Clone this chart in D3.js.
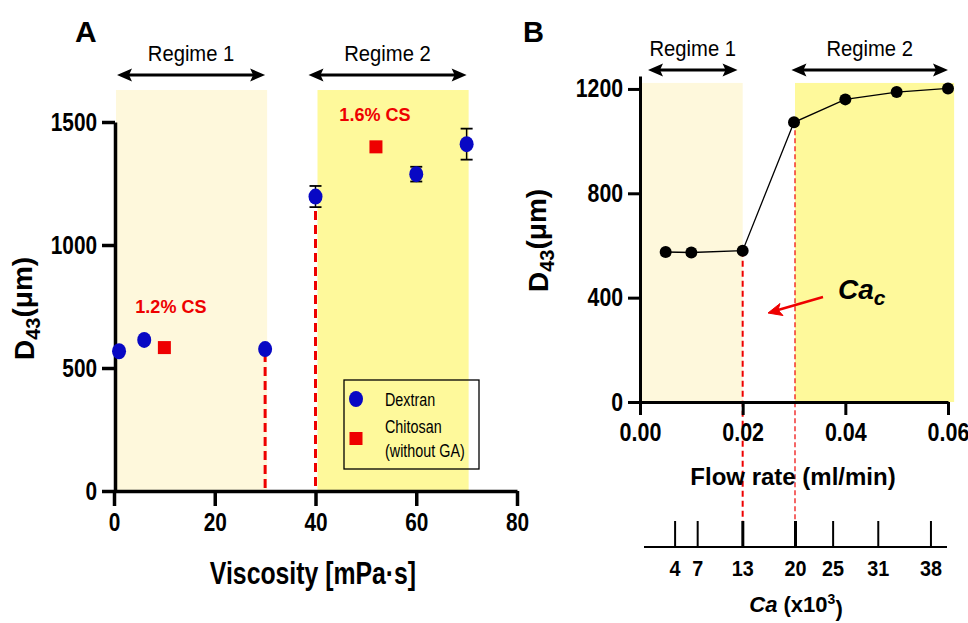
<!DOCTYPE html>
<html>
<head>
<meta charset="utf-8">
<script src="https://cdn.jsdelivr.net/npm/d3@7"></script>
<style>
  body { margin: 0; background: #fff; }
</style>
</head>
<body>
<div id='chart'></div>
<script>

// Data, panel A
const dexVisc = [1, 6, 30, 40, 60, 70];
const dexD43 = [568, 614, 577, 1197, 1288, 1410];
const dexErr = [0, 0, 0, 43, 30, 63];
const chiVisc = [10, 52];
const chiD43 = [583, 1399];
const chiLabels = ['1.2% CS', '1.6% CS'];
const chiLabelAt = [[11.3, 725], [51.8, 1505]];
const viscTicks = [0, 20, 40, 60, 80];
const d43TicksA = [0, 500, 1000, 1500];
const regimesA = [[0, 30], [40, 70]];
const dashedA = [30, 40];

// Data, panel B
const flowRate = [0.005, 0.01, 0.02, 0.03, 0.04, 0.05, 0.06];
const d43B = [575, 573, 580, 1072, 1160, 1188, 1202];
const flowTicks = [0, 0.02, 0.04, 0.06];
const d43TicksB = [0, 400, 800, 1200];
const regimesB = [[0, 0.02], [0.03, 0.061]];
const caTicks = [4, 7, 13, 20, 25, 31, 38];

// Styles
const ARIAL = '"Liberation Sans", Arial, sans-serif';
const lightYellow = '#fef8dc';
const strongYellow = '#fef99b';
const dexColor = '#0808c4';
const chiColor = '#ee0000';

const svg = d3.select('#chart').append('svg')
  .attr('width', 968)
  .attr('height', 623);

// squeeze text horizontally (no narrow font installed)
function narrow(sel, k) {
  sel.each(function() {
    const t = d3.select(this);
    const x = +t.attr('x') || 0;
    const y = +t.attr('y') || 0;
    t.attr('x', x / k).attr('y', y).attr('transform', `scale(${k},1)`);
  });
}

// double headed arrow for regime labels
function regimeArrow(g, x1, x2, y, label) {
  g.append('line')
    .attr('x1', x1 + 8).attr('x2', x2 - 8)
    .attr('y1', y).attr('y2', y)
    .style('stroke', '#000').style('stroke-width', 3);
  g.append('path')
    .attr('d', `M${x1},${y} L${x1 + 15},${y - 6.5} L${x1 + 12},${y} L${x1 + 15},${y + 6.5} Z`)
    .style('fill', '#000');
  g.append('path')
    .attr('d', `M${x2},${y} L${x2 - 15},${y - 6.5} L${x2 - 12},${y} L${x2 - 15},${y + 6.5} Z`)
    .style('fill', '#000');
  g.append('text')
    .attr('x', (x1 + x2) / 2)
    .attr('y', y - 14)
    .attr('text-anchor', 'middle')
    .style('font-family', ARIAL)
    .style('font-size', '22px')
    .call(narrow, 0.92)
    .text(label);
}

function styleAxis(ax, size, k, sw) {
  ax.select('.domain').style('stroke-width', sw);
  ax.selectAll('.tick line').style('stroke-width', sw);
  ax.selectAll('.tick text')
    .style('font-family', ARIAL)
    .style('font-weight', 'bold')
    .style('font-size', size + 'px')
    .attr('fill', '#000')
    .call(narrow, k);
}

// ---------------- Panel A ----------------
const xA = d3.scaleLinear().domain([0, 80]).range([114, 517]);
const yA = d3.scaleLinear().domain([0, 1500]).range([491, 122]);
const gA = svg.append('g');

gA.selectAll('rect.regime')
  .data(regimesA)
  .enter()
  .append('rect')
  .attr('class', 'regime')
  .attr('x', d => xA(d[0]) + 2)
  .attr('width', d => xA(d[1]) - xA(d[0]))
  .attr('y', yA(1630))
  .attr('height', yA(0) - yA(1630))
  .style('fill', (d, i) => i === 0 ? lightYellow : strongYellow);

regimeArrow(gA, xA(regimesA[0][0]) + 3, xA(regimesA[0][1]), 75, 'Regime 1');
regimeArrow(gA, xA(regimesA[1][0]) - 7, xA(regimesA[1][1]), 75, 'Regime 2');

// red dashed lines down from the transition points
gA.selectAll('line.crit')
  .data(dashedA)
  .enter()
  .append('line')
  .attr('class', 'crit')
  .attr('x1', d => xA(d)).attr('x2', d => xA(d))
  .attr('y1', d => {
    const i = dexVisc.indexOf(d);
    return yA(dexD43[i] - dexErr[i]) + 4;
  })
  .attr('y2', yA(0))
  .style('stroke', chiColor)
  .style('stroke-width', 3)
  .style('stroke-dasharray', '9,5');

// axes
const axA_y = gA.append('g')
  .attr('transform', `translate(${xA(0) + 1},0)`)
  .call(d3.axisLeft(yA).tickValues(d43TicksA).tickFormat(d3.format('d'))
    .tickSize(13).tickSizeOuter(0).tickPadding(5));
styleAxis(axA_y, 26, 0.8, 3.5);

const axA_x = gA.append('g')
  .attr('transform', `translate(0,${yA(0)})`)
  .call(d3.axisBottom(xA).tickValues(viscTicks).tickSize(15).tickSizeOuter(0).tickPadding(7));
styleAxis(axA_x, 26, 0.8, 3.5);

// error bars
const errIdx = dexErr.map((e, i) => i).filter(i => dexErr[i] > 0);
const eb = gA.selectAll('g.err').data(errIdx).enter().append('g');
eb.append('line')
  .attr('x1', i => xA(dexVisc[i])).attr('x2', i => xA(dexVisc[i]))
  .attr('y1', i => yA(dexD43[i] - dexErr[i]))
  .attr('y2', i => yA(dexD43[i] + dexErr[i]))
  .style('stroke', '#000').style('stroke-width', 1.5);
[-1, 1].forEach(s => {
  eb.append('line')
    .attr('x1', i => xA(dexVisc[i]) - 6).attr('x2', i => xA(dexVisc[i]) + 6)
    .attr('y1', i => yA(dexD43[i] + s * dexErr[i]))
    .attr('y2', i => yA(dexD43[i] + s * dexErr[i]))
    .style('stroke', '#000').style('stroke-width', 1.8);
});

// Dextran points
gA.selectAll('ellipse.dex')
  .data(dexVisc)
  .enter()
  .append('ellipse')
  .attr('cx', d => xA(d))
  .attr('cy', (d, i) => yA(dexD43[i]))
  .attr('rx', 7).attr('ry', 8)
  .style('fill', dexColor);

// Chitosan points
gA.selectAll('rect.chi')
  .data(chiVisc)
  .enter()
  .append('rect')
  .attr('x', d => xA(d) - 6.5)
  .attr('y', (d, i) => yA(chiD43[i]) - 6.5)
  .attr('width', 13).attr('height', 13)
  .style('fill', chiColor);

gA.selectAll('text.cs')
  .data(chiLabels)
  .enter()
  .append('text')
  .attr('x', (d, i) => xA(chiLabelAt[i][0]))
  .attr('y', (d, i) => yA(chiLabelAt[i][1]))
  .attr('text-anchor', 'middle')
  .style('font-family', ARIAL)
  .style('font-weight', 'bold')
  .style('font-size', '19px')
  .style('fill', chiColor)
  .text(d => d)
  .call(narrow, 0.95);

// legend
const leg = gA.append('g').attr('transform', 'translate(344,380)');
leg.append('rect')
  .attr('width', 135).attr('height', 89)
  .style('fill', 'none').style('stroke', '#000').style('stroke-width', 1.3);
leg.append('ellipse').attr('cx', 12).attr('cy', 19).attr('rx', 7).attr('ry', 8).style('fill', dexColor);
leg.append('rect').attr('x', 5.5).attr('y', 52).attr('width', 13).attr('height', 13).style('fill', chiColor);
[['Dextran', 26], ['Chitosan', 53], ['(without GA)', 77]].forEach(t => {
  leg.append('text')
    .attr('x', 41).attr('y', t[1])
    .style('font-family', ARIAL)
    .style('font-size', '17.5px')
    .text(t[0])
    .call(narrow, 0.82);
});

// titles
gA.append('text')
  .attr('x', 75).attr('y', 42)
  .style('font-family', ARIAL).style('font-weight', 'bold').style('font-size', '30px')
  .text('A');

gA.append('text')
  .attr('x', xA(39.5)).attr('y', 584)
  .attr('text-anchor', 'middle')
  .style('font-family', ARIAL).style('font-weight', 'bold').style('font-size', '31px')
  .text('Viscosity [mPa·s]')
  .call(narrow, 0.8);

function d43Label(g, x, y) {
  const t = g.append('text')
    .attr('transform', `translate(${x},${y}) rotate(-90)`)
    .style('font-family', ARIAL).style('font-weight', 'bold').style('font-size', '28px');
  t.append('tspan').text('D');
  t.append('tspan').attr('dy', '0.28em').style('font-size', '20px').text('43');
  t.append('tspan').attr('dy', '-0.28em').text('(μm)');
}
d43Label(gA, 34, 360);

// ---------------- Panel B ----------------
const xB = d3.scaleLinear().domain([0, 0.06]).range([640, 948]);
const yB = d3.scaleLinear().domain([0, 1250]).range([402, 75.9]);
const gB = svg.append('g');

gB.selectAll('rect.regime')
  .data(regimesB)
  .enter()
  .append('rect')
  .attr('x', d => xB(d[0]) + (d[0] === 0 ? 2 : 1))
  .attr('width', d => xB(d[1]) - xB(d[0]) - (d[0] === 0 ? 2 : 0))
  .attr('y', yB(1223))
  .attr('height', yB(0) - yB(1223))
  .style('fill', (d, i) => i === 0 ? lightYellow : strongYellow);

regimeArrow(gB, xB(0) + 8, xB(0.019), 70, 'Regime 1');
regimeArrow(gB, xB(0.0295), xB(0.06), 70, 'Regime 2');

// Ca secondary axis
const caScale = d3.scaleLinear().domain([0, 40]).range([645, 946]);
const caY = 547;

// red dashed lines at the critical points
gB.append('line')
  .attr('x1', xB(0.02)).attr('x2', xB(0.02))
  .attr('y1', yB(d43B[2])).attr('y2', caY - 26)
  .style('stroke', chiColor).style('stroke-width', 2).style('stroke-dasharray', '6,4');
gB.append('line')
  .attr('x1', xB(0.03) + 1).attr('x2', xB(0.03) + 1)
  .attr('y1', yB(d43B[3])).attr('y2', caY - 26)
  .style('stroke', chiColor).style('stroke-width', 1.2).style('stroke-dasharray', '5,3');

const axB_y = gB.append('g')
  .attr('transform', `translate(${xB(0)},0)`)
  .call(d3.axisLeft(yB).tickValues(d43TicksB).tickFormat(d3.format('d'))
    .tickSize(12).tickSizeOuter(0).tickPadding(5));
styleAxis(axB_y, 25, 0.85, 3);

const axB_x = gB.append('g')
  .attr('transform', `translate(0,${yB(0)})`)
  .call(d3.axisBottom(xB).tickValues(flowTicks).tickFormat(d3.format('.2f'))
    .tickSize(13).tickSizeOuter(0).tickPadding(8));
styleAxis(axB_x, 25, 0.86, 3);

// data line + points
gB.append('path')
  .datum(flowRate)
  .attr('d', d3.line().x(d => xB(d)).y((d, i) => yB(d43B[i])))
  .style('fill', 'none').style('stroke', '#000').style('stroke-width', 1.3);

gB.selectAll('circle.pt')
  .data(flowRate)
  .enter()
  .append('circle')
  .attr('cx', d => xB(d))
  .attr('cy', (d, i) => yB(d43B[i]))
  .attr('r', 6)
  .style('fill', '#000');

// Ca_c annotation with arrow
gB.append('line')
  .attr('x1', 823).attr('y1', 297).attr('x2', 778).attr('y2', 310)
  .style('stroke', chiColor).style('stroke-width', 2.5);
gB.append('path')
  .attr('d', 'M768,313 L780,303.5 L778,310 L783,315.5 Z')
  .style('fill', chiColor).style('stroke', chiColor).style('stroke-width', 1);
const cac = gB.append('text')
  .attr('x', 838).attr('y', 299)
  .style('font-family', ARIAL).style('font-weight', 'bold').style('font-style', 'italic')
  .style('font-size', '28px');
cac.append('tspan').text('Ca');
cac.append('tspan').attr('dy', '0.3em').style('font-size', '21px').text('c');

gB.append('text')
  .attr('x', 523).attr('y', 42)
  .style('font-family', ARIAL).style('font-weight', 'bold').style('font-size', '29px')
  .text('B');

gB.append('text')
  .attr('x', 793).attr('y', 485)
  .attr('text-anchor', 'middle')
  .style('font-family', ARIAL).style('font-weight', 'bold').style('font-size', '24px')
  .text('Flow rate (ml/min)');

d43Label(gB, 548, 292);

const caAx = gB.append('g');
caAx.append('line')
  .attr('x1', caScale(0) - 1).attr('x2', caScale(40) + 1)
  .attr('y1', caY).attr('y2', caY)
  .style('stroke', '#000').style('stroke-width', 2.2);
caAx.selectAll('line.catick')
  .data(caTicks)
  .enter()
  .append('line')
  .attr('x1', d => caScale(d)).attr('x2', d => caScale(d))
  .attr('y1', caY).attr('y2', caY - 26)
  .style('stroke', '#000')
  .style('stroke-width', d => (d === 13 || d === 20) ? 3 : 2);
caAx.selectAll('text.catick')
  .data(caTicks)
  .enter()
  .append('text')
  .attr('x', d => caScale(d))
  .attr('y', caY + 29)
  .attr('text-anchor', 'middle')
  .style('font-family', ARIAL).style('font-weight', 'bold').style('font-size', '22px')
  .text(d => d)
  .call(narrow, 0.9);

const caLab = gB.append('text')
  .attr('x', 796).attr('y', 612)
  .attr('text-anchor', 'middle')
  .style('font-family', ARIAL).style('font-weight', 'bold').style('font-size', '22px');
caLab.append('tspan').style('font-style', 'italic').text('Ca');
caLab.append('tspan').text(' (x10');
caLab.append('tspan').attr('dy', '-0.55em').style('font-size', '14px').text('3');
caLab.append('tspan').attr('dy', '0.55em').text(')');

</script>
</body>
</html>
